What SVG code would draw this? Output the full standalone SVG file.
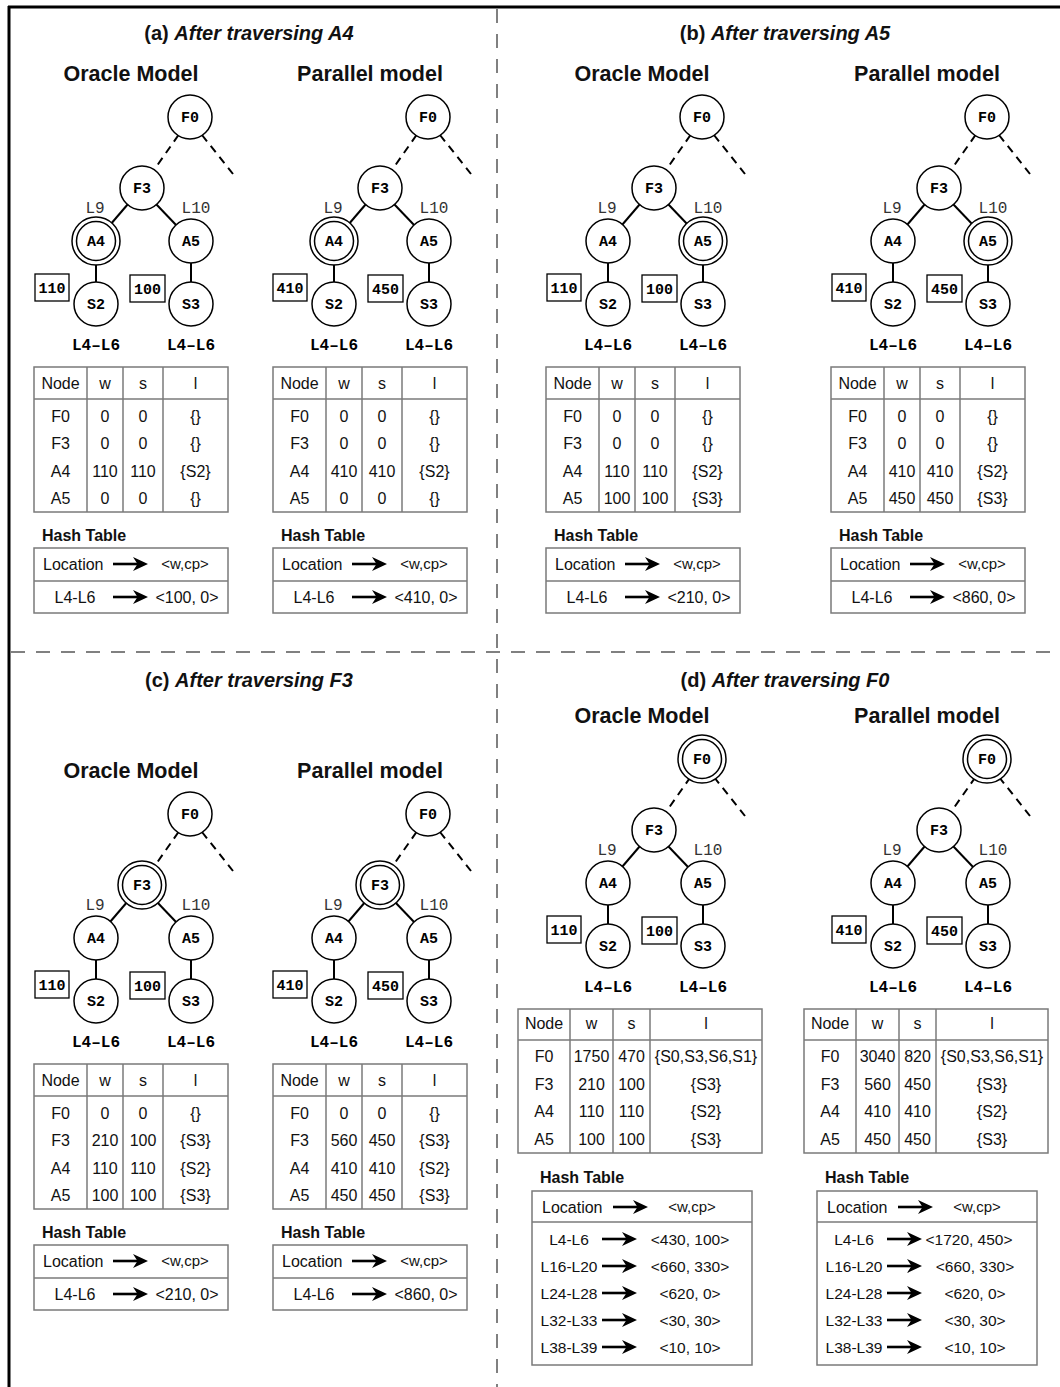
<svg xmlns="http://www.w3.org/2000/svg" xmlns:xlink="http://www.w3.org/1999/xlink" width="1060" height="1387" viewBox="0 0 1060 1387">
<style>
text { font-family: "Liberation Sans", Arial, Helvetica, sans-serif; fill: #111; }
.title { font-size: 20px; font-weight: bold; text-anchor: middle; }
.head { font-size: 21.5px; font-weight: bold; text-anchor: middle; }
.node circle { fill: #fff; stroke: #000; stroke-width: 1.5; }
.node text, .wbox text, .seg { font-family: "Liberation Mono", "Courier New", monospace; font-weight: bold; font-size: 15px; text-anchor: middle; fill: #000; }
.seg { font-size: 16px; }
.loc { font-family: "Liberation Mono", "Courier New", monospace; font-size: 16px; text-anchor: middle; fill: #333; }
.wbox rect { fill: #fff; stroke: #000; stroke-width: 1.3; }
.edge { stroke: #000; stroke-width: 2; fill: none; }
.dash { stroke-dasharray: 8 6; }
.gl { fill: none; stroke: #7a7a7a; stroke-width: 1.5; }
.tbl text { font-size: 16px; text-anchor: middle; }
.ht { font-size: 16px; font-weight: bold; }
.hs { font-size: 16px; }
.hm { font-size: 16px; text-anchor: middle; }
.hd { font-size: 15.5px; text-anchor: middle; }
.hw { font-size: 15px; text-anchor: middle; }
.frame { stroke: #000; stroke-width: 3; }
.div { stroke: #808080; stroke-width: 2; stroke-dasharray: 14 11; }
</style>
<defs>
  <g id="arr"><path d="M0,0 H25" stroke="#000" stroke-width="2.6"/><path d="M35,0 L20,-7 L24.5,0 L20,7 Z" fill="#000"/></g>
  <g id="grid3"><rect class="gl" x="34" y="367" width="194" height="145"/><line class="gl" x1="34" y1="399" x2="228" y2="399"/><line class="gl" x1="87" y1="367" x2="87" y2="512"/><line class="gl" x1="123" y1="367" x2="123" y2="512"/><line class="gl" x1="163" y1="367" x2="163" y2="512"/></g>
  <g id="grid4"><rect class="gl" x="518" y="1009" width="244" height="144"/><line class="gl" x1="518" y1="1040" x2="762" y2="1040"/><line class="gl" x1="570" y1="1009" x2="570" y2="1153"/><line class="gl" x1="613" y1="1009" x2="613" y2="1153"/><line class="gl" x1="650" y1="1009" x2="650" y2="1153"/></g>
  <g id="hash2"><rect class="gl" x="34" y="548" width="194" height="65"/><line class="gl" x1="34" y1="581" x2="228" y2="581"/><use xlink:href="#arr" x="113" y="564"/><use xlink:href="#arr" x="113" y="597"/></g>
  <g id="hash6"><rect class="gl" x="532" y="1191" width="220" height="174"/><line class="gl" x1="532" y1="1222" x2="752" y2="1222"/><use xlink:href="#arr" x="613" y="1207"/><use xlink:href="#arr" x="602" y="1239"/><use xlink:href="#arr" x="602" y="1266"/><use xlink:href="#arr" x="602" y="1293"/><use xlink:href="#arr" x="602" y="1320"/><use xlink:href="#arr" x="602" y="1347"/></g>
</defs>

<g id="frame">
  <line class="frame" x1="8" y1="7" x2="1060" y2="7"/>
  <line class="frame" x1="9" y1="6" x2="9" y2="1387"/>
  <line class="div" x1="497" y1="9" x2="497" y2="1387"/>
  <line class="div" x1="11" y1="652" x2="1060" y2="652"/>
</g>

<g id="titles">
  <text class="title" x="249" y="40">(a) <tspan font-style="italic">After traversing A4</tspan></text>
  <text class="title" x="785" y="40">(b) <tspan font-style="italic">After traversing A5</tspan></text>
  <text class="title" x="249" y="687">(c) <tspan font-style="italic">After traversing F3</tspan></text>
  <text class="title" x="785" y="687">(d) <tspan font-style="italic">After traversing F0</tspan></text>
</g>

<g id="connectors">
  <g transform="translate(0,0)"><path class="edge dash" d="M178.5,135 L154,170"/><path class="edge dash" d="M202,135 L233,174"/><path class="edge" d="M128,204 L110,225"/><path class="edge" d="M156,204 L177,226"/><path class="edge" d="M96,263 V282"/><path class="edge" d="M191,263 V282"/></g>
  <g transform="translate(238,0)"><path class="edge dash" d="M178.5,135 L154,170"/><path class="edge dash" d="M202,135 L233,174"/><path class="edge" d="M128,204 L110,225"/><path class="edge" d="M156,204 L177,226"/><path class="edge" d="M96,263 V282"/><path class="edge" d="M191,263 V282"/></g>
  <g transform="translate(512,0)"><path class="edge dash" d="M178.5,135 L154,170"/><path class="edge dash" d="M202,135 L233,174"/><path class="edge" d="M128,204 L110,225"/><path class="edge" d="M156,204 L177,226"/><path class="edge" d="M96,263 V282"/><path class="edge" d="M191,263 V282"/></g>
  <g transform="translate(797,0)"><path class="edge dash" d="M178.5,135 L154,170"/><path class="edge dash" d="M202,135 L233,174"/><path class="edge" d="M128,204 L110,225"/><path class="edge" d="M156,204 L177,226"/><path class="edge" d="M96,263 V282"/><path class="edge" d="M191,263 V282"/></g>
  <g transform="translate(0,697)"><path class="edge dash" d="M178.5,135 L154,170"/><path class="edge dash" d="M202,135 L233,174"/><path class="edge" d="M128,204 L110,225"/><path class="edge" d="M156,204 L177,226"/><path class="edge" d="M96,263 V282"/><path class="edge" d="M191,263 V282"/></g>
  <g transform="translate(238,697)"><path class="edge dash" d="M178.5,135 L154,170"/><path class="edge dash" d="M202,135 L233,174"/><path class="edge" d="M128,204 L110,225"/><path class="edge" d="M156,204 L177,226"/><path class="edge" d="M96,263 V282"/><path class="edge" d="M191,263 V282"/></g>
  <g transform="translate(512,642)"><path class="edge dash" d="M178.5,135 L154,170"/><path class="edge dash" d="M202,135 L233,174"/><path class="edge" d="M128,204 L110,225"/><path class="edge" d="M156,204 L177,226"/><path class="edge" d="M96,263 V282"/><path class="edge" d="M191,263 V282"/></g>
  <g transform="translate(797,642)"><path class="edge dash" d="M178.5,135 L154,170"/><path class="edge dash" d="M202,135 L233,174"/><path class="edge" d="M128,204 L110,225"/><path class="edge" d="M156,204 L177,226"/><path class="edge" d="M96,263 V282"/><path class="edge" d="M191,263 V282"/></g>
</g>

<!-- (a) Oracle tree -->
<g id="a-oracle" transform="translate(0,0)">
  <text class="head" x="131" y="81">Oracle Model</text>
  <g id="a-o-F0" class="node"><circle cx="190" cy="117" r="22"/><text x="190" y="122">F0</text></g>
  <g id="a-o-F3" class="node"><circle cx="142" cy="188" r="22"/><text x="142" y="193">F3</text></g>
  <g id="a-o-A4" class="node"><circle cx="96" cy="241" r="24"/><circle cx="96" cy="241" r="19.5"/><text x="96" y="246">A4</text></g>
  <g id="a-o-A5" class="node"><circle cx="191" cy="241" r="22"/><text x="191" y="246">A5</text></g>
  <g id="a-o-S2" class="node"><circle cx="96" cy="304" r="22"/><text x="96" y="309">S2</text></g>
  <g id="a-o-S3" class="node"><circle cx="191" cy="304" r="22"/><text x="191" y="309">S3</text></g>
  <g id="a-o-wS2" class="wbox"><rect x="35" y="274" width="34" height="27"/><text x="52" y="292.5">110</text></g>
  <g id="a-o-wS3" class="wbox"><rect x="130" y="275" width="35" height="27"/><text x="147.5" y="293.5">100</text></g>
  <text class="loc" x="95" y="213">L9</text><text class="loc" x="196" y="213">L10</text>
  <text class="seg" x="96" y="350">L4–L6</text><text class="seg" x="191" y="350">L4–L6</text>
</g>
<!-- (a) Parallel tree -->
<g id="a-parallel" transform="translate(238,0)">
  <text class="head" x="132" y="81">Parallel model</text>
  <g id="a-p-F0" class="node"><circle cx="190" cy="117" r="22"/><text x="190" y="122">F0</text></g>
  <g id="a-p-F3" class="node"><circle cx="142" cy="188" r="22"/><text x="142" y="193">F3</text></g>
  <g id="a-p-A4" class="node"><circle cx="96" cy="241" r="24"/><circle cx="96" cy="241" r="19.5"/><text x="96" y="246">A4</text></g>
  <g id="a-p-A5" class="node"><circle cx="191" cy="241" r="22"/><text x="191" y="246">A5</text></g>
  <g id="a-p-S2" class="node"><circle cx="96" cy="304" r="22"/><text x="96" y="309">S2</text></g>
  <g id="a-p-S3" class="node"><circle cx="191" cy="304" r="22"/><text x="191" y="309">S3</text></g>
  <g id="a-p-wS2" class="wbox"><rect x="35" y="274" width="34" height="27"/><text x="52" y="292.5">410</text></g>
  <g id="a-p-wS3" class="wbox"><rect x="130" y="275" width="35" height="27"/><text x="147.5" y="293.5">450</text></g>
  <text class="loc" x="95" y="213">L9</text><text class="loc" x="196" y="213">L10</text>
  <text class="seg" x="96" y="350">L4–L6</text><text class="seg" x="191" y="350">L4–L6</text>
</g>
<!-- (b) Oracle tree -->
<g id="b-oracle" transform="translate(512,0)">
  <text class="head" x="130" y="81">Oracle Model</text>
  <g id="b-o-F0" class="node"><circle cx="190" cy="117" r="22"/><text x="190" y="122">F0</text></g>
  <g id="b-o-F3" class="node"><circle cx="142" cy="188" r="22"/><text x="142" y="193">F3</text></g>
  <g id="b-o-A4" class="node"><circle cx="96" cy="241" r="22"/><text x="96" y="246">A4</text></g>
  <g id="b-o-A5" class="node"><circle cx="191" cy="241" r="24"/><circle cx="191" cy="241" r="19.5"/><text x="191" y="246">A5</text></g>
  <g id="b-o-S2" class="node"><circle cx="96" cy="304" r="22"/><text x="96" y="309">S2</text></g>
  <g id="b-o-S3" class="node"><circle cx="191" cy="304" r="22"/><text x="191" y="309">S3</text></g>
  <g id="b-o-wS2" class="wbox"><rect x="35" y="274" width="34" height="27"/><text x="52" y="292.5">110</text></g>
  <g id="b-o-wS3" class="wbox"><rect x="130" y="275" width="35" height="27"/><text x="147.5" y="293.5">100</text></g>
  <text class="loc" x="95" y="213">L9</text><text class="loc" x="196" y="213">L10</text>
  <text class="seg" x="96" y="350">L4–L6</text><text class="seg" x="191" y="350">L4–L6</text>
</g>
<!-- (b) Parallel tree -->
<g id="b-parallel" transform="translate(797,0)">
  <text class="head" x="130" y="81">Parallel model</text>
  <g id="b-p-F0" class="node"><circle cx="190" cy="117" r="22"/><text x="190" y="122">F0</text></g>
  <g id="b-p-F3" class="node"><circle cx="142" cy="188" r="22"/><text x="142" y="193">F3</text></g>
  <g id="b-p-A4" class="node"><circle cx="96" cy="241" r="22"/><text x="96" y="246">A4</text></g>
  <g id="b-p-A5" class="node"><circle cx="191" cy="241" r="24"/><circle cx="191" cy="241" r="19.5"/><text x="191" y="246">A5</text></g>
  <g id="b-p-S2" class="node"><circle cx="96" cy="304" r="22"/><text x="96" y="309">S2</text></g>
  <g id="b-p-S3" class="node"><circle cx="191" cy="304" r="22"/><text x="191" y="309">S3</text></g>
  <g id="b-p-wS2" class="wbox"><rect x="35" y="274" width="34" height="27"/><text x="52" y="292.5">410</text></g>
  <g id="b-p-wS3" class="wbox"><rect x="130" y="275" width="35" height="27"/><text x="147.5" y="293.5">450</text></g>
  <text class="loc" x="95" y="213">L9</text><text class="loc" x="196" y="213">L10</text>
  <text class="seg" x="96" y="350">L4–L6</text><text class="seg" x="191" y="350">L4–L6</text>
</g>
<!-- (c) Oracle tree -->
<g id="c-oracle" transform="translate(0,697)">
  <text class="head" x="131" y="81">Oracle Model</text>
  <g id="c-o-F0" class="node"><circle cx="190" cy="117" r="22"/><text x="190" y="122">F0</text></g>
  <g id="c-o-F3" class="node"><circle cx="142" cy="188" r="24"/><circle cx="142" cy="188" r="19.5"/><text x="142" y="193">F3</text></g>
  <g id="c-o-A4" class="node"><circle cx="96" cy="241" r="22"/><text x="96" y="246">A4</text></g>
  <g id="c-o-A5" class="node"><circle cx="191" cy="241" r="22"/><text x="191" y="246">A5</text></g>
  <g id="c-o-S2" class="node"><circle cx="96" cy="304" r="22"/><text x="96" y="309">S2</text></g>
  <g id="c-o-S3" class="node"><circle cx="191" cy="304" r="22"/><text x="191" y="309">S3</text></g>
  <g id="c-o-wS2" class="wbox"><rect x="35" y="274" width="34" height="27"/><text x="52" y="292.5">110</text></g>
  <g id="c-o-wS3" class="wbox"><rect x="130" y="275" width="35" height="27"/><text x="147.5" y="293.5">100</text></g>
  <text class="loc" x="95" y="213">L9</text><text class="loc" x="196" y="213">L10</text>
  <text class="seg" x="96" y="350">L4–L6</text><text class="seg" x="191" y="350">L4–L6</text>
</g>
<!-- (c) Parallel tree -->
<g id="c-parallel" transform="translate(238,697)">
  <text class="head" x="132" y="81">Parallel model</text>
  <g id="c-p-F0" class="node"><circle cx="190" cy="117" r="22"/><text x="190" y="122">F0</text></g>
  <g id="c-p-F3" class="node"><circle cx="142" cy="188" r="24"/><circle cx="142" cy="188" r="19.5"/><text x="142" y="193">F3</text></g>
  <g id="c-p-A4" class="node"><circle cx="96" cy="241" r="22"/><text x="96" y="246">A4</text></g>
  <g id="c-p-A5" class="node"><circle cx="191" cy="241" r="22"/><text x="191" y="246">A5</text></g>
  <g id="c-p-S2" class="node"><circle cx="96" cy="304" r="22"/><text x="96" y="309">S2</text></g>
  <g id="c-p-S3" class="node"><circle cx="191" cy="304" r="22"/><text x="191" y="309">S3</text></g>
  <g id="c-p-wS2" class="wbox"><rect x="35" y="274" width="34" height="27"/><text x="52" y="292.5">410</text></g>
  <g id="c-p-wS3" class="wbox"><rect x="130" y="275" width="35" height="27"/><text x="147.5" y="293.5">450</text></g>
  <text class="loc" x="95" y="213">L9</text><text class="loc" x="196" y="213">L10</text>
  <text class="seg" x="96" y="350">L4–L6</text><text class="seg" x="191" y="350">L4–L6</text>
</g>
<!-- (d) Oracle tree -->
<g id="d-oracle" transform="translate(512,642)">
  <text class="head" x="130" y="81">Oracle Model</text>
  <g id="d-o-F0" class="node"><circle cx="190" cy="117" r="24"/><circle cx="190" cy="117" r="19.5"/><text x="190" y="122">F0</text></g>
  <g id="d-o-F3" class="node"><circle cx="142" cy="188" r="22"/><text x="142" y="193">F3</text></g>
  <g id="d-o-A4" class="node"><circle cx="96" cy="241" r="22"/><text x="96" y="246">A4</text></g>
  <g id="d-o-A5" class="node"><circle cx="191" cy="241" r="22"/><text x="191" y="246">A5</text></g>
  <g id="d-o-S2" class="node"><circle cx="96" cy="304" r="22"/><text x="96" y="309">S2</text></g>
  <g id="d-o-S3" class="node"><circle cx="191" cy="304" r="22"/><text x="191" y="309">S3</text></g>
  <g id="d-o-wS2" class="wbox"><rect x="35" y="274" width="34" height="27"/><text x="52" y="292.5">110</text></g>
  <g id="d-o-wS3" class="wbox"><rect x="130" y="275" width="35" height="27"/><text x="147.5" y="293.5">100</text></g>
  <text class="loc" x="95" y="213">L9</text><text class="loc" x="196" y="213">L10</text>
  <text class="seg" x="96" y="350">L4–L6</text><text class="seg" x="191" y="350">L4–L6</text>
</g>
<!-- (d) Parallel tree -->
<g id="d-parallel" transform="translate(797,642)">
  <text class="head" x="130" y="81">Parallel model</text>
  <g id="d-p-F0" class="node"><circle cx="190" cy="117" r="24"/><circle cx="190" cy="117" r="19.5"/><text x="190" y="122">F0</text></g>
  <g id="d-p-F3" class="node"><circle cx="142" cy="188" r="22"/><text x="142" y="193">F3</text></g>
  <g id="d-p-A4" class="node"><circle cx="96" cy="241" r="22"/><text x="96" y="246">A4</text></g>
  <g id="d-p-A5" class="node"><circle cx="191" cy="241" r="22"/><text x="191" y="246">A5</text></g>
  <g id="d-p-S2" class="node"><circle cx="96" cy="304" r="22"/><text x="96" y="309">S2</text></g>
  <g id="d-p-S3" class="node"><circle cx="191" cy="304" r="22"/><text x="191" y="309">S3</text></g>
  <g id="d-p-wS2" class="wbox"><rect x="35" y="274" width="34" height="27"/><text x="52" y="292.5">410</text></g>
  <g id="d-p-wS3" class="wbox"><rect x="130" y="275" width="35" height="27"/><text x="147.5" y="293.5">450</text></g>
  <text class="loc" x="95" y="213">L9</text><text class="loc" x="196" y="213">L10</text>
  <text class="seg" x="96" y="350">L4–L6</text><text class="seg" x="191" y="350">L4–L6</text>
</g>

<!-- Tables (a),(b),(c) -->
<g id="a-o-table" class="tbl" transform="translate(0,0)">
  <use xlink:href="#grid3"/>
  <text x="60.5" y="389">Node</text><text x="105" y="389">w</text><text x="143" y="389">s</text><text x="195.5" y="389">l</text>
  <text x="60.5" y="422">F0</text><text x="105" y="422">0</text><text x="143" y="422">0</text><text x="195.5" y="422">{}</text>
  <text x="60.5" y="449">F3</text><text x="105" y="449">0</text><text x="143" y="449">0</text><text x="195.5" y="449">{}</text>
  <text x="60.5" y="477">A4</text><text x="105" y="477">110</text><text x="143" y="477">110</text><text x="195.5" y="477">{S2}</text>
  <text x="60.5" y="504">A5</text><text x="105" y="504">0</text><text x="143" y="504">0</text><text x="195.5" y="504">{}</text>
</g>
<g id="a-p-table" class="tbl" transform="translate(239,0)">
  <use xlink:href="#grid3"/>
  <text x="60.5" y="389">Node</text><text x="105" y="389">w</text><text x="143" y="389">s</text><text x="195.5" y="389">l</text>
  <text x="60.5" y="422">F0</text><text x="105" y="422">0</text><text x="143" y="422">0</text><text x="195.5" y="422">{}</text>
  <text x="60.5" y="449">F3</text><text x="105" y="449">0</text><text x="143" y="449">0</text><text x="195.5" y="449">{}</text>
  <text x="60.5" y="477">A4</text><text x="105" y="477">410</text><text x="143" y="477">410</text><text x="195.5" y="477">{S2}</text>
  <text x="60.5" y="504">A5</text><text x="105" y="504">0</text><text x="143" y="504">0</text><text x="195.5" y="504">{}</text>
</g>
<g id="b-o-table" class="tbl" transform="translate(512,0)">
  <use xlink:href="#grid3"/>
  <text x="60.5" y="389">Node</text><text x="105" y="389">w</text><text x="143" y="389">s</text><text x="195.5" y="389">l</text>
  <text x="60.5" y="422">F0</text><text x="105" y="422">0</text><text x="143" y="422">0</text><text x="195.5" y="422">{}</text>
  <text x="60.5" y="449">F3</text><text x="105" y="449">0</text><text x="143" y="449">0</text><text x="195.5" y="449">{}</text>
  <text x="60.5" y="477">A4</text><text x="105" y="477">110</text><text x="143" y="477">110</text><text x="195.5" y="477">{S2}</text>
  <text x="60.5" y="504">A5</text><text x="105" y="504">100</text><text x="143" y="504">100</text><text x="195.5" y="504">{S3}</text>
</g>
<g id="b-p-table" class="tbl" transform="translate(797,0)">
  <use xlink:href="#grid3"/>
  <text x="60.5" y="389">Node</text><text x="105" y="389">w</text><text x="143" y="389">s</text><text x="195.5" y="389">l</text>
  <text x="60.5" y="422">F0</text><text x="105" y="422">0</text><text x="143" y="422">0</text><text x="195.5" y="422">{}</text>
  <text x="60.5" y="449">F3</text><text x="105" y="449">0</text><text x="143" y="449">0</text><text x="195.5" y="449">{}</text>
  <text x="60.5" y="477">A4</text><text x="105" y="477">410</text><text x="143" y="477">410</text><text x="195.5" y="477">{S2}</text>
  <text x="60.5" y="504">A5</text><text x="105" y="504">450</text><text x="143" y="504">450</text><text x="195.5" y="504">{S3}</text>
</g>
<g id="c-o-table" class="tbl" transform="translate(0,697)">
  <use xlink:href="#grid3"/>
  <text x="60.5" y="389">Node</text><text x="105" y="389">w</text><text x="143" y="389">s</text><text x="195.5" y="389">l</text>
  <text x="60.5" y="422">F0</text><text x="105" y="422">0</text><text x="143" y="422">0</text><text x="195.5" y="422">{}</text>
  <text x="60.5" y="449">F3</text><text x="105" y="449">210</text><text x="143" y="449">100</text><text x="195.5" y="449">{S3}</text>
  <text x="60.5" y="477">A4</text><text x="105" y="477">110</text><text x="143" y="477">110</text><text x="195.5" y="477">{S2}</text>
  <text x="60.5" y="504">A5</text><text x="105" y="504">100</text><text x="143" y="504">100</text><text x="195.5" y="504">{S3}</text>
</g>
<g id="c-p-table" class="tbl" transform="translate(239,697)">
  <use xlink:href="#grid3"/>
  <text x="60.5" y="389">Node</text><text x="105" y="389">w</text><text x="143" y="389">s</text><text x="195.5" y="389">l</text>
  <text x="60.5" y="422">F0</text><text x="105" y="422">0</text><text x="143" y="422">0</text><text x="195.5" y="422">{}</text>
  <text x="60.5" y="449">F3</text><text x="105" y="449">560</text><text x="143" y="449">450</text><text x="195.5" y="449">{S3}</text>
  <text x="60.5" y="477">A4</text><text x="105" y="477">410</text><text x="143" y="477">410</text><text x="195.5" y="477">{S2}</text>
  <text x="60.5" y="504">A5</text><text x="105" y="504">450</text><text x="143" y="504">450</text><text x="195.5" y="504">{S3}</text>
</g>

<!-- Tables (d) -->
<g id="d-o-table" class="tbl" transform="translate(0,0)">
  <use xlink:href="#grid4"/>
  <text x="544" y="1029">Node</text><text x="591.5" y="1029">w</text><text x="631.5" y="1029">s</text><text x="706" y="1029">l</text>
  <text x="544" y="1062">F0</text><text x="591.5" y="1062">1750</text><text x="631.5" y="1062">470</text><text x="706" y="1062">{S0,S3,S6,S1}</text>
  <text x="544" y="1090">F3</text><text x="591.5" y="1090">210</text><text x="631.5" y="1090">100</text><text x="706" y="1090">{S3}</text>
  <text x="544" y="1117">A4</text><text x="591.5" y="1117">110</text><text x="631.5" y="1117">110</text><text x="706" y="1117">{S2}</text>
  <text x="544" y="1145">A5</text><text x="591.5" y="1145">100</text><text x="631.5" y="1145">100</text><text x="706" y="1145">{S3}</text>
</g>
<g id="d-p-table" class="tbl" transform="translate(286,0)">
  <use xlink:href="#grid4"/>
  <text x="544" y="1029">Node</text><text x="591.5" y="1029">w</text><text x="631.5" y="1029">s</text><text x="706" y="1029">l</text>
  <text x="544" y="1062">F0</text><text x="591.5" y="1062">3040</text><text x="631.5" y="1062">820</text><text x="706" y="1062">{S0,S3,S6,S1}</text>
  <text x="544" y="1090">F3</text><text x="591.5" y="1090">560</text><text x="631.5" y="1090">450</text><text x="706" y="1090">{S3}</text>
  <text x="544" y="1117">A4</text><text x="591.5" y="1117">410</text><text x="631.5" y="1117">410</text><text x="706" y="1117">{S2}</text>
  <text x="544" y="1145">A5</text><text x="591.5" y="1145">450</text><text x="631.5" y="1145">450</text><text x="706" y="1145">{S3}</text>
</g>

<!-- Hash tables (a),(b),(c) -->
<g id="a-o-hash" transform="translate(0,0)">
  <text class="ht" x="42" y="541">Hash Table</text>
  <use xlink:href="#hash2"/>
  <text class="hs" x="43" y="570">Location</text><text class="hw" x="185" y="569">&lt;w,cp&gt;</text>
  <text class="hm" x="75" y="603">L4-L6</text><text class="hm" x="187" y="603">&lt;100, 0&gt;</text>
</g>
<g id="a-p-hash" transform="translate(239,0)">
  <text class="ht" x="42" y="541">Hash Table</text>
  <use xlink:href="#hash2"/>
  <text class="hs" x="43" y="570">Location</text><text class="hw" x="185" y="569">&lt;w,cp&gt;</text>
  <text class="hm" x="75" y="603">L4-L6</text><text class="hm" x="187" y="603">&lt;410, 0&gt;</text>
</g>
<g id="b-o-hash" transform="translate(512,0)">
  <text class="ht" x="42" y="541">Hash Table</text>
  <use xlink:href="#hash2"/>
  <text class="hs" x="43" y="570">Location</text><text class="hw" x="185" y="569">&lt;w,cp&gt;</text>
  <text class="hm" x="75" y="603">L4-L6</text><text class="hm" x="187" y="603">&lt;210, 0&gt;</text>
</g>
<g id="b-p-hash" transform="translate(797,0)">
  <text class="ht" x="42" y="541">Hash Table</text>
  <use xlink:href="#hash2"/>
  <text class="hs" x="43" y="570">Location</text><text class="hw" x="185" y="569">&lt;w,cp&gt;</text>
  <text class="hm" x="75" y="603">L4-L6</text><text class="hm" x="187" y="603">&lt;860, 0&gt;</text>
</g>
<g id="c-o-hash" transform="translate(0,697)">
  <text class="ht" x="42" y="541">Hash Table</text>
  <use xlink:href="#hash2"/>
  <text class="hs" x="43" y="570">Location</text><text class="hw" x="185" y="569">&lt;w,cp&gt;</text>
  <text class="hm" x="75" y="603">L4-L6</text><text class="hm" x="187" y="603">&lt;210, 0&gt;</text>
</g>
<g id="c-p-hash" transform="translate(239,697)">
  <text class="ht" x="42" y="541">Hash Table</text>
  <use xlink:href="#hash2"/>
  <text class="hs" x="43" y="570">Location</text><text class="hw" x="185" y="569">&lt;w,cp&gt;</text>
  <text class="hm" x="75" y="603">L4-L6</text><text class="hm" x="187" y="603">&lt;860, 0&gt;</text>
</g>

<!-- Hash tables (d) -->
<g id="d-o-hash" transform="translate(0,0)">
  <text class="ht" x="540" y="1183">Hash Table</text>
  <use xlink:href="#hash6"/>
  <text class="hs" x="542" y="1213">Location</text><text class="hw" x="692" y="1212">&lt;w,cp&gt;</text>
  <text class="hd" x="569" y="1245">L4-L6</text><text class="hd" x="690" y="1245">&lt;430, 100&gt;</text>
  <text class="hd" x="569" y="1272">L16-L20</text><text class="hd" x="690" y="1272">&lt;660, 330&gt;</text>
  <text class="hd" x="569" y="1299">L24-L28</text><text class="hd" x="690" y="1299">&lt;620, 0&gt;</text>
  <text class="hd" x="569" y="1326">L32-L33</text><text class="hd" x="690" y="1326">&lt;30, 30&gt;</text>
  <text class="hd" x="569" y="1353">L38-L39</text><text class="hd" x="690" y="1353">&lt;10, 10&gt;</text>
</g>
<g id="d-p-hash" transform="translate(285,0)">
  <text class="ht" x="540" y="1183">Hash Table</text>
  <use xlink:href="#hash6"/>
  <text class="hs" x="542" y="1213">Location</text><text class="hw" x="692" y="1212">&lt;w,cp&gt;</text>
  <text class="hd" x="569" y="1245">L4-L6</text><text class="hd" x="684" y="1245">&lt;1720, 450&gt;</text>
  <text class="hd" x="569" y="1272">L16-L20</text><text class="hd" x="690" y="1272">&lt;660, 330&gt;</text>
  <text class="hd" x="569" y="1299">L24-L28</text><text class="hd" x="690" y="1299">&lt;620, 0&gt;</text>
  <text class="hd" x="569" y="1326">L32-L33</text><text class="hd" x="690" y="1326">&lt;30, 30&gt;</text>
  <text class="hd" x="569" y="1353">L38-L39</text><text class="hd" x="690" y="1353">&lt;10, 10&gt;</text>
</g>
</svg>
